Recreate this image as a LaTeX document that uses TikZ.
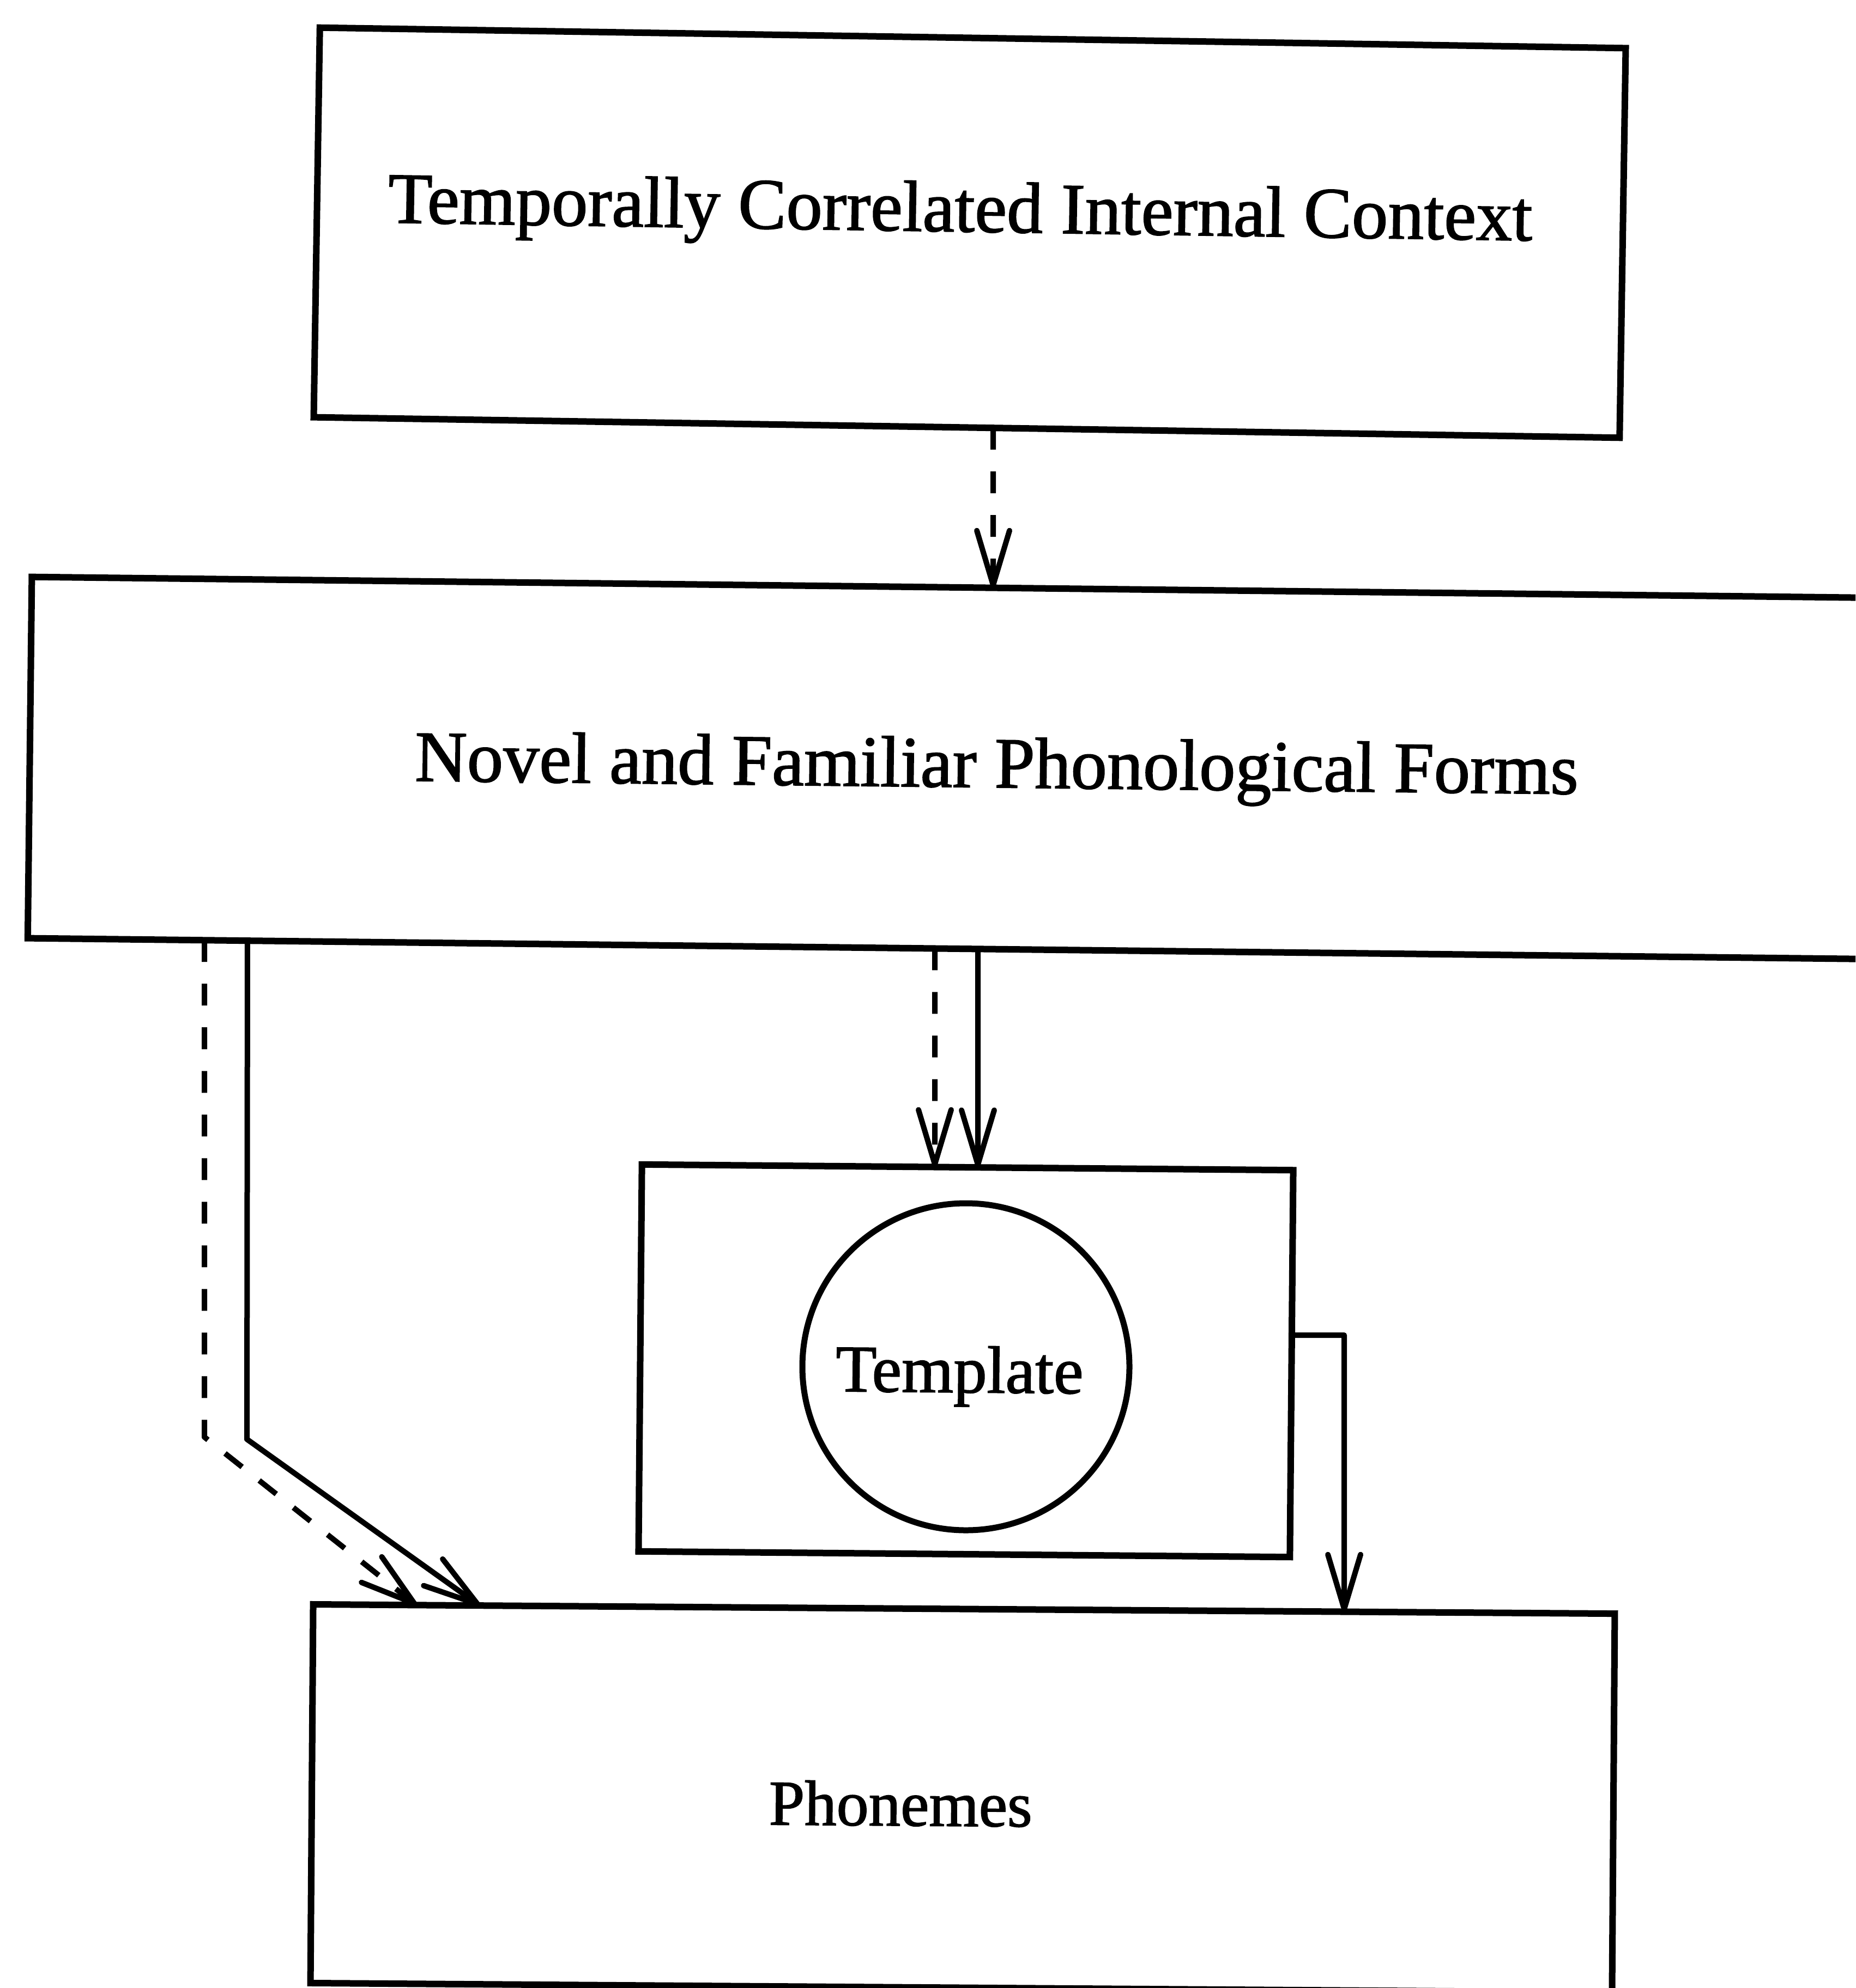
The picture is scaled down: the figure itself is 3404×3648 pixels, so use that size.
\documentclass[tikz,border=0pt]{standalone}
\usepackage{fontspec}
\setmainfont{Liberation Serif}[FakeBold=1.4]
\usetikzlibrary{arrows.meta}

\begin{document}
\begin{tikzpicture}[x=0.2pt,y=-0.2pt,
  box/.style={draw,rectangle,line width=2.4pt,inner sep=0pt,outer sep=0pt},
  ring/.style={draw,circle,line width=2.2pt,inner sep=0pt,outer sep=0pt},
  bigtext/.style={font=\fontsize{26.5}{30}\selectfont,inner sep=0pt,anchor=base},
  smalltext/.style={font=\fontsize{23.5}{27}\selectfont,inner sep=0pt,anchor=base},
  link/.style={line width=2pt,line join=round,
    -{Straight Barb[length=20pt,width=12pt,round]}},
  dashlink/.style={link,dash pattern=on 8pt off 8pt},
]
\useasboundingbox (0,0) rectangle (3404,3648);
\clip (0,0) rectangle (3404,3648);

% boxes and their labels
\node[box,minimum width=479.2pt,minimum height=143pt,rotate=-0.9] (tc) at (1779,427) {};
\node[bigtext,rotate=-0.9] (tctext) at (1761,425) {Temporally Correlated Internal Context};

\node[box,minimum width=701pt,minimum height=132.6pt,rotate=-0.65] (nf) at (1807,1410) {};
\node[bigtext,rotate=-0.65] (nftext) at (1828,1445) {Novel and Familiar Phonological Forms};

\node[box,minimum width=239pt,minimum height=142pt,rotate=-0.5] (tm) at (1772,2497) {};
\node[ring,minimum size=120pt] (circ) at (1772,2508) {};
\node[smalltext,font=\fontsize{24.5}{28}\selectfont,rotate=-0.5] (tmtext) at (1760,2555) {Template};

\node[box,minimum width=477.6pt,minimum height=139pt,rotate=-0.41] (ph) at (1766,3300) {};
\node[smalltext,rotate=-0.41] (phtext) at (1652,3350) {Phonemes};

% bend points of the connectors
\coordinate (bendC) at (2466,2450);
\coordinate (bendD) at (375,2637);
\coordinate (bendE) at (453,2641);

% context -> forms
\draw[dashlink] (intersection of tc.south west--tc.south east and 1822,0--1822,1)
  -- (intersection of nf.north west--nf.north east and 1822,0--1822,1);

% forms -> template
\draw[dashlink] (intersection of nf.south west--nf.south east and 1715,0--1715,1)
  -- (intersection of tm.north west--tm.north east and 1715,0--1715,1);
\draw[link] (intersection of nf.south west--nf.south east and 1794,0--1794,1)
  -- (intersection of tm.north west--tm.north east and 1794,0--1794,1);

% template -> phonemes
\draw[link] (intersection of tm.north east--tm.south east and 0,2450--1,2450)
  -- (bendC)
  -- (intersection of ph.north west--ph.north east and 2466,0--2466,1);

% forms -> phonemes
\draw[dashlink] (intersection of nf.south west--nf.south east and 375,0--375,1)
  -- (bendD)
  -- (intersection of ph.north west--ph.north east and 764,0--764,1);
\draw[link] (intersection of nf.south west--nf.south east and 454,0--454,1)
  -- (bendE)
  -- (intersection of ph.north west--ph.north east and 880,0--880,1);
\end{tikzpicture}
\end{document}
